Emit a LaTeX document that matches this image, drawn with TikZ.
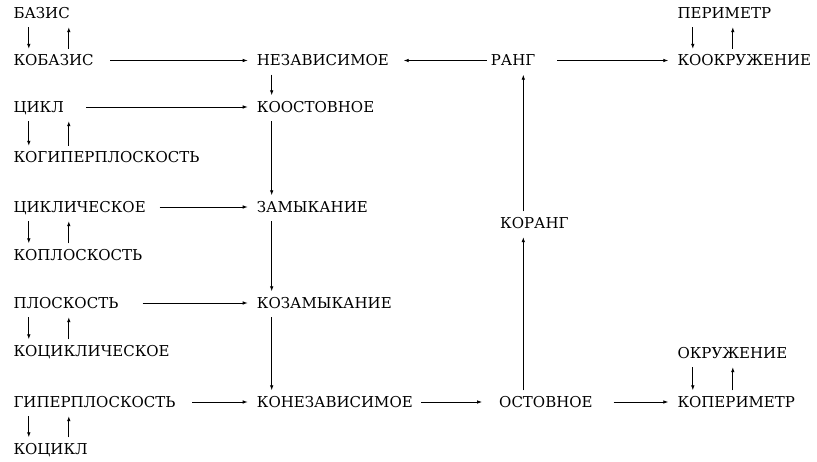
\documentclass[tikz,border=0pt]{standalone}
\usepackage{fontspec}
\setmainfont{DejaVu Serif}
\usepackage{tikz}
\usetikzlibrary{arrows.meta}

\tikzset{
  term/.style={anchor=west, inner sep=0pt, text height=11pt, text depth=0pt,
    align=left, font=\fontsize{15}{18}\selectfont},
  arr/.style={-{Latex[length=5pt,width=3.6pt]}, line width=0.8pt},
  godown/.style={arr, shorten <=8.5pt, shorten >=6pt},
  goup/.style={arr, shorten <=6pt, shorten >=8.5pt},
  hz/.style={arr, shorten >=9pt}
}

\begin{document}
\begin{tikzpicture}[x=1pt, y=-1pt]
		\useasboundingbox (0,0) rectangle (817,462);

		% Left column
		\node[term, text width=56.7pt] (basis) at (13.3,13) {БАЗИС};
		\node[term, text width=81pt] (kobasis) at (13.3,60.5) {КОБАЗИС};
		\node[term, text width=50pt] (cikl) at (13.3,107) {ЦИКЛ};
		\node[term, text width=189pt] (kogiper) at (13.3,157.5) {КОГИПЕРПЛОСКОСТЬ};
		\node[term, text width=133pt] (ciklich) at (13.3,207) {ЦИКЛИЧЕСКОЕ};
		\node[term, text width=132pt] (koplosk) at (13.3,255) {КОПЛОСКОСТЬ};
		\node[term, text width=108pt] (plosk) at (13.3,303) {ПЛОСКОСТЬ};
		\node[term, text width=158pt] (kociklich) at (13.3,351) {КОЦИКЛИЧЕСКОЕ};
		\node[term, text width=165pt] (giper) at (13.3,402) {ГИПЕРПЛОСКОСТЬ};
		\node[term, text width=74pt] (kocikl) at (13.3,449) {КОЦИКЛ};

		% Middle column
		\node[term, text width=130pt] (nezav) at (256.7,60.5) {НЕЗАВИСИМОЕ};
		\node[term, text width=120pt] (koostov) at (256.7,107) {КООСТОВНОЕ};
		\node[term, text width=112pt] (zamyk) at (256.7,207) {ЗАМЫКАНИЕ};
		\node[term, text width=137pt] (kozamyk) at (256.7,303) {КОЗАМЫКАНИЕ};
		\node[term, text width=156pt] (konezav) at (256.7,402) {КОНЕЗАВИСИМОЕ};

		% Rank column
		\node[term, text width=50pt] (rang) at (490.7,60.5) {РАНГ};
		\node[term, text width=66pt] (korang) at (500,223) {КОРАНГ};
		\node[term, text width=95pt] (ostov) at (499,402) {ОСТОВНОЕ};

		% Right column
		\node[term, text width=95pt] (perim) at (677.3,13) {ПЕРИМЕТР};
		\node[term, text width=137pt] (kookr) at (677.3,60.5) {КООКРУЖЕНИЕ};
		\node[term, text width=115pt] (okr) at (677.3,353) {ОКРУЖЕНИЕ};
		\node[term, text width=120pt] (koperim) at (677.3,402) {КОПЕРИМЕТР};

		% Dual pairs
		\foreach \a/\b in {basis/kobasis, cikl/kogiper, ciklich/koplosk, plosk/kociklich,
			giper/kocikl, perim/kookr, okr/koperim}{
			\draw[godown] ([xshift=15.5pt]\a.south west) -- ([xshift=15.5pt]\b.north west);
			\draw[goup] ([xshift=55.5pt]\b.north west) -- ([xshift=55.5pt]\a.south west);
		}

		% Horizontal arrows
		\draw[hz, shorten <=15.7pt] (kobasis.east) -- (nezav.west);
		\draw[hz, shorten <=22.7pt] (cikl.east) -- (koostov.west);
		\draw[hz, shorten <=13pt] (ciklich.east) -- (zamyk.west);
		\draw[hz, shorten <=21pt] (plosk.east) -- (kozamyk.west);
		\draw[hz, shorten <=13.4pt] (giper.east) -- (konezav.west);
		\draw[hz, shorten <=8pt, shorten >=17pt] (konezav.east) -- (ostov.west);
		\draw[hz, shorten <=19.3pt] (ostov.east) -- (koperim.west);
		\draw[hz, shorten <=4pt, shorten >=16.6pt] (rang.west) -- (nezav.east);
		\draw[hz, shorten <=16pt] (rang.east) -- (kookr.west);

		% Vertical chains
		\draw[godown] ([xshift=15pt]nezav.south west) -- ([xshift=15pt]koostov.north west);
		\draw[godown] ([xshift=15pt]koostov.south west) -- ([xshift=15pt]zamyk.north west);
		\draw[godown] ([xshift=15pt]zamyk.south west) -- ([xshift=15pt]kozamyk.north west);
		\draw[godown] ([xshift=15pt]kozamyk.south west) -- ([xshift=15pt]konezav.north west);
		\draw[goup] ([xshift=24.3pt]ostov.north west) -- ([xshift=23.3pt]korang.south west);
		\draw[goup] ([xshift=23.3pt]korang.north west) -- ([xshift=32.6pt]rang.south west);
	\end{tikzpicture}
\end{document}
